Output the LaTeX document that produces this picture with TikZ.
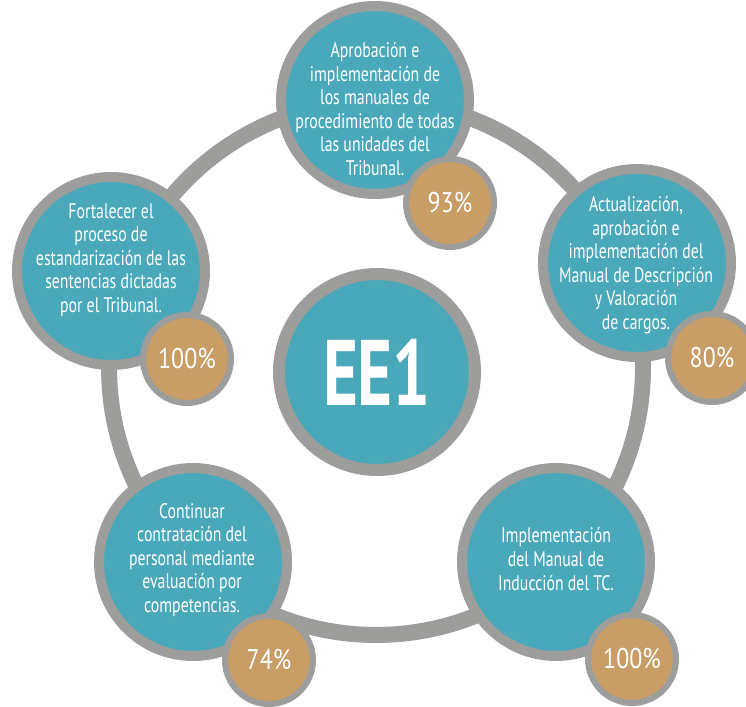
\documentclass[tikz,border=0pt]{standalone}
\usepackage{fontspec}
\setmainfont{PT Sans}[FakeStretch=0.75]
\newfontfamily\eefont{PT Sans}[FakeStretch=0.72]
\newfontfamily\pctfont{PT Sans}[FakeStretch=0.84]
\definecolor{ringgray}{HTML}{9D9D9C}
\definecolor{goalteal}{HTML}{4AA8BB}
\definecolor{pcttan}{HTML}{C89D66}
\tikzset{
  ring/.style = {draw=ringgray, line width=0.32cm},
  hub/.style = {circle, fill=goalteal, draw=ringgray, line width=0.24cm,
    minimum size=3.92cm, inner sep=0pt, text=white,
    font=\eefont\bfseries\fontsize{53}{53}\selectfont},
  goal/.style = {circle, fill=goalteal, draw=ringgray, line width=0.2cm,
    minimum size=3.76cm, inner sep=0pt},
  txt/.style = {align=center, text=white, inner sep=0pt,
    font=\fontsize{12}{13.4}\selectfont},
  pct/.style = {circle, fill=pcttan, draw=ringgray, line width=0.12cm,
    minimum size=1.76cm, inner sep=0pt, text=white,
    font=\pctfont\fontsize{16.2}{16.2}\selectfont}
}
\begin{document}
\begin{tikzpicture}[x=0.02cm, y=-0.02cm]
\useasboundingbox (0,0) rectangle (746,706);
\coordinate (c) at (376,368);
\draw [ring] (c) circle [radius=5.34cm];
\node [hub] (ee) at (377,372) {EE1};
\node [goal] (g1) at (375,100) {};
\node [goal] (g2) at (637,263) {};
\node [goal] (g3) at (556,562) {};
\node [goal] (g4) at (193,562) {};
\node [goal] (g5) at (111,271) {};
\node [txt] (t1) at (375,109) {Aprobación e\\implementación de\\los manuales de\\procedimiento de todas\\las unidades del\\Tribunal.};
\node [txt] (t2) at (636,265) {Actualización,\\aprobación e\\implementación del\\Manual de Descripción\\y Valoración\\de cargos.};
\node [txt] (t3) at (556,559) {Implementación\\del Manual de\\Inducción del TC.};
\node [txt] (t4) at (192,560) {Continuar\\contratación del\\personal mediante\\evaluación por\\competencias.};
\node [txt] (t5) at (111,260) {Fortalecer el\\proceso de\\estandarización de las\\sentencias dictadas\\por el Tribunal.};
\node [pct] (p1) at (450,203) {93\%};
\node [pct] (p2) at (712,358) {80\%};
\node [pct] (p3) at (632,659) {100\%};
\node [pct] (p4) at (269,660) {74\%};
\node [pct] (p5) at (187,359) {100\%};
\end{tikzpicture}
\end{document}
